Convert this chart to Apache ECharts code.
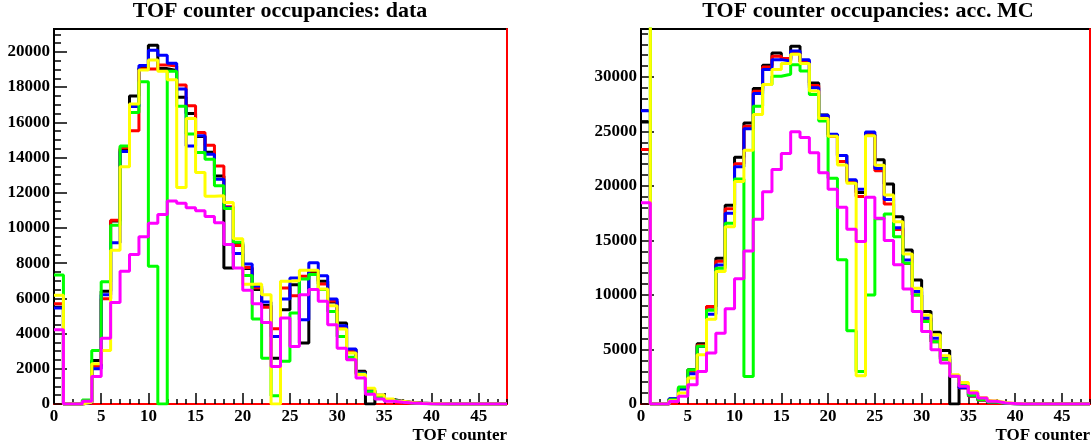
<!DOCTYPE html>
<html>
<head>
<meta charset="utf-8">
<script src="https://cdn.jsdelivr.net/npm/echarts@6/dist/echarts.min.js"></script>
<style>
html,body{margin:0;padding:0;background:#fff;}
#c{width:1091px;height:447px;}
</style>
</head>
<body>
<div id="c"></div>
<script>
// ---- data (48 bins, counter 0..47) ----
const nBins = 48;
const titleLeft = "TOF counter occupancies: data";
const titleRight = "TOF counter occupancies: acc. MC";
const axisTitle = "TOF counter";
const seriesColors = ["#000000", "#ff0000", "#0000ff", "#00ff00", "#ffff00", "#ff00ff"];

const dataBlack = [5500,0,0,80,2470,6400,10400,14450,17500,19080, 20380,19050,18950,17420,16500,15200,14300,12950,7730,9100, 7700,6500,5600,2600,5360,6780,3460,7500,6970,5800, 4600,3100,1860,0,500,250,150,80,50,25, 10,0,0,0,0,0,0,0];
const dataRed = [5700,0,0,80,2150,5980,10430,14550,15520,19030, 19030,19260,19200,18120,16940,15420,14700,13520,11200,9000, 7750,6600,5500,4270,6590,6150,7250,7390,6820,5850, 4400,3000,1750,800,420,220,130,70,40,20, 10,0,0,0,0,0,0,0];
const dataBlue = [5450,0,0,80,2000,6200,9160,14340,16900,19220, 20090,19810,19360,17890,14660,15240,14190,12760,11150,8550, 7950,6700,5800,3840,5960,7160,4790,8020,7290,5960, 4450,3120,1750,750,400,220,130,70,40,20, 10,0,0,0,0,0,0,0];
const dataGreen = [7330,0,0,230,3040,6950,10160,14660,16560,18310, 7820,0,18900,16910,15330,14280,13900,12400,11100,9190, 7300,4830,2600,470,2430,5170,7100,7350,6500,5260, 3840,2660,1700,700,380,200,120,60,30,15, 5,0,0,0,0,0,0,0];
const dataYellow = [6170,0,0,100,2280,3040,8740,13470,17040,18970, 19540,18900,18420,12300,16220,13150,11800,11830,11440,9380, 6800,6820,6200,0,6970,7000,7600,7600,6530,5580, 4260,2890,1670,900,510,280,150,80,40,20, 10,0,0,0,0,0,0,0];
const dataMagenta = [4220,0,0,150,1560,3740,5770,7540,8490,9500, 10260,10770,11530,11400,11150,10980,10650,10300,9060,7730, 6460,5700,4630,2130,4880,3270,6210,6500,5830,4500, 3170,2510,1480,550,280,150,100,60,30,15, 5,0,0,0,0,0,0,0];

const mcBlack = [25880,0,0,450,1500,3140,5520,8900,13370,18240, 22630,25780,28940,31070,32200,31600,32810,31400,29450,26520, 24700,22790,20500,19400,24700,22400,20170,17180,14130,11380, 8480,6590,4910,0,1600,800,400,200,80,30, 10,0,0,0,0,0,0,0];
const mcRed = [23350,0,0,400,1450,3000,5400,8940,13100,17900, 22050,25480,28700,30920,31900,31690,32200,31400,29210,26400, 24530,22240,20400,19030,24700,21400,18340,16000,12900,10000, 7720,5700,4100,2600,1460,700,350,170,70,25, 10,0,0,0,0,0,0,0];
const mcBlue = [26890,0,0,490,1370,2770,5270,8240,12760,17500, 21770,25260,28480,30680,31590,31470,32390,31590,29000,26490, 24750,22790,20560,19690,24960,21610,18770,16170,13210,10310, 7900,6040,4300,2600,1500,750,380,180,70,25, 10,0,0,0,0,0,0,0];
const mcGreen = [35500,0,0,400,1560,3140,5300,8600,12460,16580, 20640,2530,27320,29300,30070,30250,31130,30550,28390,25970, 20700,13230,6720,2990,10000,17000,17430,15350,12910,10000, 7560,5700,4100,2600,1700,800,400,180,70,25, 10,0,0,0,0,0,0,0];
const mcYellow = [40000,0,0,300,1000,2380,4520,7780,12150,16270, 20420,23270,26560,29300,30680,31230,32080,31230,28720,26190, 24570,21930,20250,2600,24600,21910,19170,16720,13760,10620, 8170,6350,4420,2680,1980,1150,600,300,130,50, 20,0,0,0,0,0,0,0];
const mcMagenta = [18460,0,0,240,700,1770,2990,4670,6500,8730, 11480,14040,16950,19470,21520,22990,24970,24450,23050,21210, 19700,18050,16040,14900,18970,17050,15000,12770,10540,8490, 6660,4980,3760,2540,1620,1010,550,250,100,40, 10,0,0,0,0,0,0,0];

const leftSets = [dataBlack, dataRed, dataBlue, dataGreen, dataYellow, dataMagenta];
const rightSets = [mcBlack, mcRed, mcBlue, mcGreen, mcYellow, mcMagenta];

// histogram outline points (left edges + closing edge), drawn with step:'end'
function histPoints(vals) {
  const pts = [];
  for (let i = 0; i < vals.length; i++) pts.push([i, vals[i]]);
  pts.push([vals.length, 0]);
  return pts;
}

const FONT = "'Liberation Serif', 'Times New Roman', serif";
function plain(v) { return String(Math.round(v)); }
function labelStyle(extra) {
  return Object.assign({fontFamily: FONT, fontWeight: "bold", fontSize: 17, color: "#000", margin: 4, formatter: plain}, extra);
}

function xAxes(grid) {
  return [
    {type: "value", gridIndex: grid, min: 0, max: nBins, interval: 5, position: "bottom",
     axisLine: {show: true, lineStyle: {color: "#ff0000", width: 2}},
     axisTick: {show: true, inside: true, length: 11, lineStyle: {color: "#000", width: 1.5}},
     axisLabel: labelStyle({showMaxLabel: false, showMinLabel: true}),
     splitLine: {show: false}},
    {type: "value", gridIndex: grid, min: 0, max: nBins, interval: 1, position: "bottom",
     axisLine: {show: false},
     axisTick: {show: true, inside: true, length: 5, lineStyle: {color: "#000", width: 1.5}},
     axisLabel: {show: false}, splitLine: {show: false}}
  ];
}
function yAxes(grid, max, major, minor) {
  return [
    {type: "value", gridIndex: grid, min: 0, max: max, interval: major, position: "left",
     axisLine: {show: true, lineStyle: {color: "#000", width: 2}},
     axisTick: {show: true, inside: true, length: 13, lineStyle: {color: "#000", width: 1.5}},
     axisLabel: labelStyle({showMaxLabel: false}),
     splitLine: {show: false}},
    {type: "value", gridIndex: grid, min: 0, max: max, interval: minor, position: "left",
     axisLine: {show: false},
     axisTick: {show: true, inside: true, length: 7, lineStyle: {color: "#000", width: 1.5}},
     axisLabel: {show: false}, splitLine: {show: false}},
    {type: "value", gridIndex: grid, min: 0, max: max, position: "right",
     axisLine: {show: true, lineStyle: {color: "#ff0000", width: 2}},
     axisTick: {show: false}, axisLabel: {show: false}, splitLine: {show: false}}
  ];
}

const series = [];
leftSets.forEach((vals, k) => {
  series.push({type: "line", xAxisIndex: 0, yAxisIndex: 0, step: "end", symbol: "none",
    data: histPoints(vals), lineStyle: {color: seriesColors[k], width: 3}, itemStyle: {color: seriesColors[k]},
    clip: true, silent: true});
});
rightSets.forEach((vals, k) => {
  series.push({type: "line", xAxisIndex: 2, yAxisIndex: 3, step: "end", symbol: "none",
    data: histPoints(vals), lineStyle: {color: seriesColors[k], width: 3}, itemStyle: {color: seriesColors[k]},
    clip: true, silent: true});
});

const chart = echarts.init(document.getElementById("c"), null, {renderer: "canvas"});
chart.setOption({
  animation: false,
  backgroundColor: "#fff",
  textStyle: {fontFamily: FONT, fontWeight: "bold", color: "#000"},
  grid: [
    {left: 54, right: 1091 - 507, top: 29, bottom: 447 - 404, show: true, borderColor: "#000", borderWidth: 2, backgroundColor: "transparent"},
    {left: 641, right: 1, top: 29, bottom: 447 - 404, show: true, borderColor: "#000", borderWidth: 2, backgroundColor: "transparent"}
  ],
  xAxis: [].concat(xAxes(0), xAxes(1)),
  yAxis: [].concat(yAxes(0, 21300, 2000, 500), yAxes(1, 34400, 5000, 1000)),
  series: series,
  graphic: [
    {type: "text", x: 280, y: 11, style: {text: titleLeft, fontFamily: FONT, fontWeight: "bold", fontSize: 22, fill: "#000", align: "center", verticalAlign: "middle"}},
    {type: "text", x: 868, y: 11, style: {text: titleRight, fontFamily: FONT, fontWeight: "bold", fontSize: 22, fill: "#000", align: "center", verticalAlign: "middle"}},
    {type: "text", x: 507, y: 436, style: {text: axisTitle, fontFamily: FONT, fontWeight: "bold", fontSize: 17, fill: "#000", align: "right", verticalAlign: "middle"}},
    {type: "text", x: 1090, y: 436, style: {text: axisTitle, fontFamily: FONT, fontWeight: "bold", fontSize: 17, fill: "#000", align: "right", verticalAlign: "middle"}}
  ]
});
</script>
</body>
</html>
